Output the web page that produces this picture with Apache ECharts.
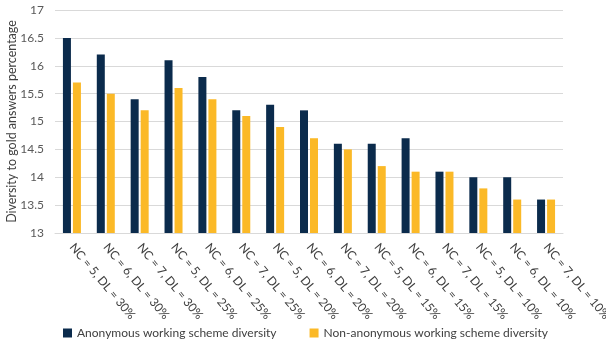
<!DOCTYPE html>
<html>
<head>
<meta charset="utf-8">
<script src="https://cdn.jsdelivr.net/npm/echarts@6/dist/echarts.min.js"></script>
<style>
  html, body { margin: 0; padding: 0; background: #fff; }
  #chart { width: 606px; height: 353px; }
</style>
</head>
<body>
<div id="chart"></div>
<script>
// Configuration labels (number of contributors, diversity level)
const categories = [
  'NC = 5, DL = 30%', 'NC = 6, DL = 30%', 'NC = 7, DL = 30%',
  'NC = 5, DL = 25%', 'NC = 6, DL = 25%', 'NC = 7, DL = 25%',
  'NC = 5, DL = 20%', 'NC = 6, DL = 20%', 'NC = 7, DL = 20%',
  'NC = 5, DL = 15%', 'NC = 6, DL = 15%', 'NC = 7, DL = 15%',
  'NC = 5, DL = 10%', 'NC = 6, DL = 10%', 'NC = 7, DL = 10%'
];

const seriesNames = [
  'Anonymous working scheme diversity',
  'Non-anonymous working scheme diversity'
];

const anonymousDiversity = [16.5, 16.2, 15.4, 16.1, 15.8, 15.2, 15.3, 15.2, 14.6, 14.6, 14.7, 14.1, 14.0, 14.0, 13.6];
const nonAnonymousDiversity = [15.7, 15.5, 15.2, 15.6, 15.4, 15.1, 14.9, 14.7, 14.5, 14.2, 14.1, 14.1, 13.8, 13.6, 13.6];

const yAxisTitle = 'Diversity to gold answers percentage';

const fontFamily = 'Lato, "Open Sans", "Liberation Sans", sans-serif';

const chart = echarts.init(document.getElementById('chart'));
chart.setOption({
  animation: false,
  textStyle: { fontFamily: fontFamily },
  grid: {
    left: 55, right: 43, top: 10, bottom: 120,
    containLabel: false,
    outerBoundsMode: 'none'
  },
  legend: {
    bottom: 9,
    left: 58,
    itemWidth: 9,
    itemHeight: 9,
    itemGap: 33,
    icon: 'rect',
    textStyle: { color: '#404040', fontSize: 12, fontFamily: fontFamily },
    data: seriesNames
  },
  xAxis: {
    type: 'category',
    data: categories,
    axisLine: { show: true, lineStyle: { color: '#d9d9d9' } },
    axisTick: { show: false },
    axisLabel: {
      interval: 0,
      rotate: -50,
      margin: 12,
      color: '#404040',
      fontSize: 12,
      fontFamily: fontFamily
    }
  },
  yAxis: {
    type: 'value',
    min: 13,
    max: 17,
    interval: 0.5,
    name: yAxisTitle,
    nameLocation: 'middle',
    nameGap: 37,
    nameMoveOverlap: false,
    nameTextStyle: { color: '#404040', fontSize: 12.5, fontFamily: fontFamily },
    axisLine: { show: false },
    axisTick: { show: false },
    axisLabel: { color: '#595959', fontSize: 12, margin: 11 },
    splitLine: { lineStyle: { color: '#d9d9d9', width: 1 } }
  },
  series: [
    {
      name: seriesNames[0],
      type: 'bar',
      data: anonymousDiversity,
      barWidth: 8,
      barGap: '25%',
      itemStyle: { color: '#0b2b4c' }
    },
    {
      name: seriesNames[1],
      type: 'bar',
      data: nonAnonymousDiversity,
      barWidth: 8,
      itemStyle: { color: '#fbb927' }
    }
  ]
});
</script>
</body>
</html>
